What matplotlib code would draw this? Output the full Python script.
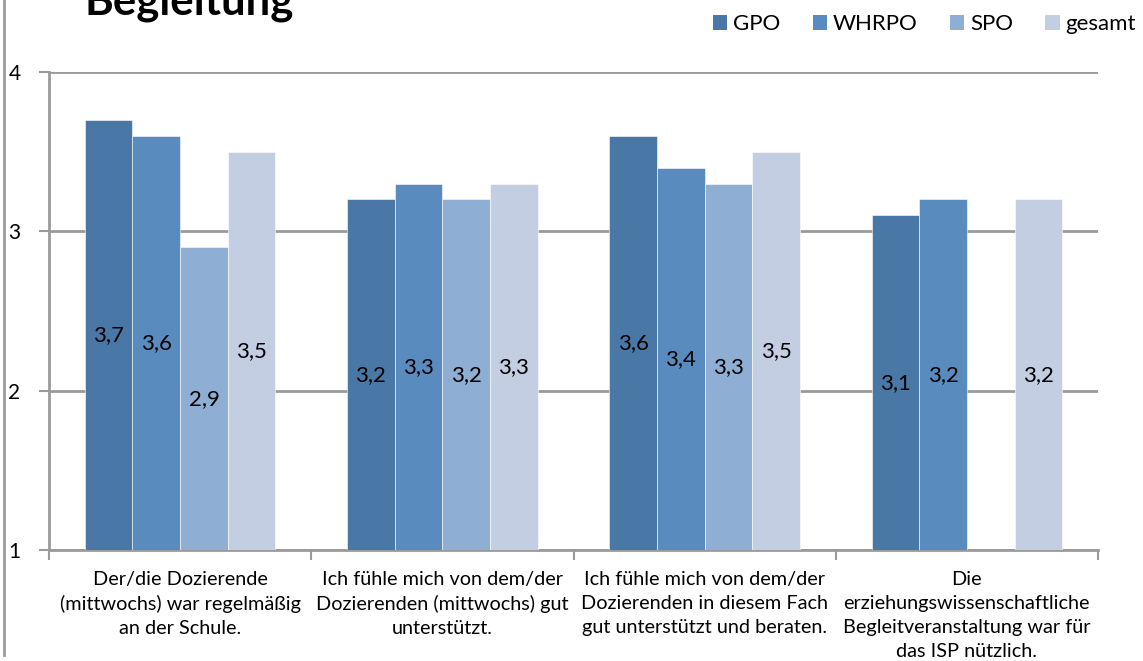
import matplotlib
matplotlib.use("Agg")
import matplotlib.pyplot as plt
import numpy as np
from matplotlib.lines import Line2D
from matplotlib.patches import Patch

plt.rcParams['font.family'] = ['Lato', 'DejaVu Sans']

title = "Begleitung"
categories = [
    "Der/die Dozierende\n(mittwochs) war regelmäßig\nan der Schule.",
    "Ich fühle mich von dem/der\nDozierenden (mittwochs) gut\nunterstützt.",
    "Ich fühle mich von dem/der\nDozierenden in diesem Fach\ngut unterstützt und beraten.",
    "Die\nerziehungswissenschaftliche\nBegleitveranstaltung war für\ndas ISP nützlich.",
]
series_names = ["GPO", "WHRPO", "SPO", "gesamt"]
gpo = [3.7, 3.2, 3.6, 3.1]
whrpo = [3.6, 3.3, 3.4, 3.2]
spo = [2.9, 3.2, 3.3, np.nan]
gesamt = [3.5, 3.3, 3.5, 3.2]
series_values = [gpo, whrpo, spo, gesamt]
colors = ["#4A78A6", "#5A8BBF", "#8FAED3", "#C3CEE3"]
y_ticks = [1, 2, 3, 4]

fig = plt.figure(figsize=(11.43, 6.61), dpi=100)
ax = fig.add_axes([49/1143, 1-550/661, (1098-49)/1143, (550-72)/661])

n = len(series_names)
width = 1/5.5
x = np.arange(len(categories))
base = 1
for i, (name, vals, c) in enumerate(zip(series_names, series_values, colors)):
    vals = np.array(vals, dtype=float)
    pos = x + (i - (n-1)/2) * width
    bars = ax.bar(pos, vals - base, bottom=base, width=width, color=c,
                  edgecolor="white", linewidth=0.4, zorder=3, label=name)
    labels = ["" if np.isnan(v) else f"{v:.1f}".replace(".", ",") for v in vals]
    ax.bar_label(bars, labels=labels, label_type="center", fontsize=16,
                 color="black", zorder=4)

ax.set_ylim(1, 4)
ax.set_xlim(-0.5, len(categories) - 0.5)
ax.set_yticks(y_ticks)
ax.set_yticklabels([str(t) for t in y_ticks], fontsize=15)
ax.yaxis.grid(True, color="#9A9A9A", linewidth=2, zorder=0)
ax.set_axisbelow(True)
ax.tick_params(axis="y", length=7, width=1.5, color="#9A9A9A", pad=13.5)

ax.set_xticks(x)
ax.set_xticklabels(categories, fontsize=14.3, linespacing=1.5)
ax.tick_params(axis="x", which="major", length=0, pad=15)
ax.set_xticks(np.arange(-0.5, len(categories)), minor=True)
ax.tick_params(axis="x", which="minor", length=7, width=1.5, color="#9A9A9A")

for s in ["top", "right"]:
    ax.spines[s].set_visible(False)
for s in ["left", "bottom"]:
    ax.spines[s].set_color("#9A9A9A")
    ax.spines[s].set_linewidth(2)

# title (cut off at the top edge, as in the reference)
fig.text(85/1143, 1-15/661, title, fontsize=31.5, fontweight="bold",
         ha="left", va="baseline")

# left frame line
fig.add_artist(Line2D([4/1143, 4/1143], [1-655/661, 1.0],
                      transform=fig.transFigure, color="#9A9A9A", linewidth=2))

handles = [Patch(facecolor=c, edgecolor="none") for c in colors]
fig.legend(handles, series_names, loc="center right",
           bbox_to_anchor=(1136/1143, 1-24/661), ncol=4, frameon=False,
           fontsize=16, handlelength=0.64, handleheight=0.64,
           handletextpad=0.27, columnspacing=1.45, borderaxespad=0, borderpad=0)

fig.savefig("out.png", dpi=100)
